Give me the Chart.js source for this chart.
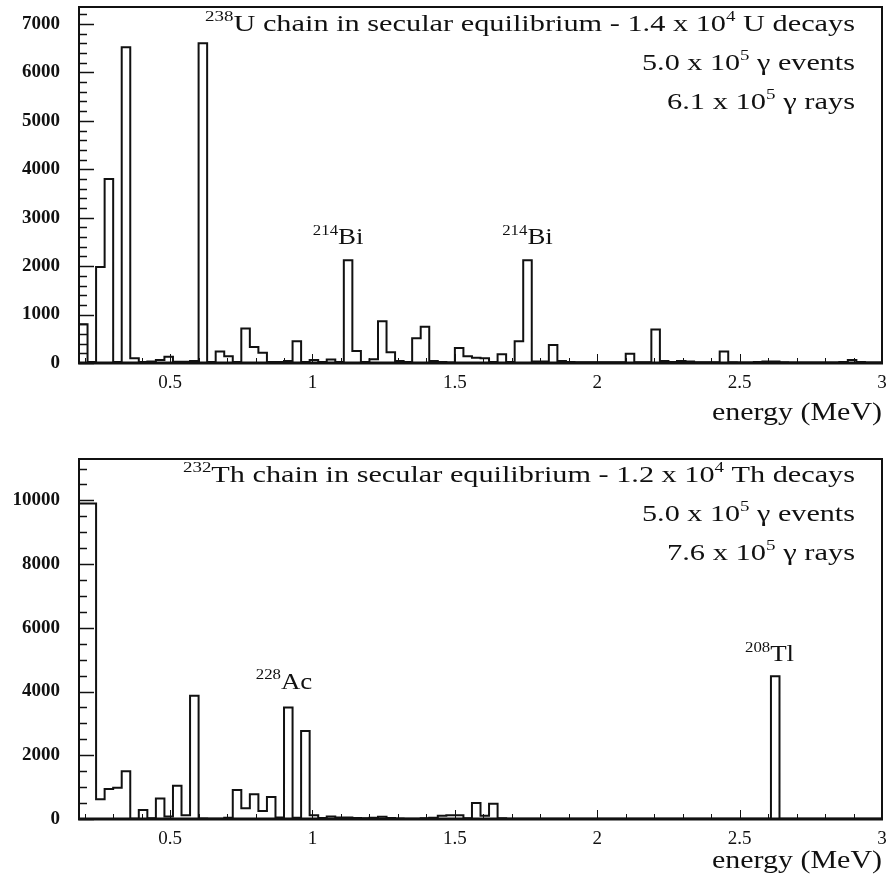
<!DOCTYPE html>
<html><head><meta charset="utf-8">
<script src="https://cdn.jsdelivr.net/npm/chart.js@4.4.1/dist/chart.umd.min.js"></script>
<style>
html,body{margin:0;padding:0;background:#fff;}
#w1{position:absolute;left:0;top:0;width:888px;height:440px;}
#w2{position:absolute;left:0;top:440px;width:888px;height:447px;}
</style></head><body>
<div id="w1"><canvas id="c1"></canvas></div>
<div id="w2"><canvas id="c2"></canvas></div>
<script>
// ---------- data ----------
const binStart = 0.18;      // MeV, lower edge of first bin
const binWidth = 0.03;      // MeV
const energyMax = 3.0;      // MeV
const xTickValues = [0.5, 1, 1.5, 2, 2.5, 3];
const uTickValues = [0, 1000, 2000, 3000, 4000, 5000, 6000, 7000];
const thTickValues = [0, 2000, 4000, 6000, 8000, 10000];

// 238U chain, counts per 0.03 MeV bin (0.18 - 3.00 MeV)
const uCounts = [
  800, 20, 1980, 3800, 20, 6520, 100, 20, 30, 60,
  130, 25, 25, 40, 6600, 20, 240, 140, 20, 710,
  330, 210, 20, 20, 40, 450, 20, 60, 20, 70,
  20, 2120, 250, 20, 80, 860, 220, 40, 20, 510,
  750, 40, 20, 10, 310, 140, 110, 100, 20, 180,
  20, 450, 2120, 30, 30, 370, 40, 20, 15, 15,
  15, 15, 15, 15, 190, 15, 15, 690, 40, 20,
  40, 30, 15, 15, 15, 240, 15, 10, 10, 20,
  30, 30, 15, 10, 10, 10, 10, 10, 10, 20,
  60, 20, 10, 10
];
// 232Th chain, counts per 0.03 MeV bin (0.18 - 3.00 MeV)
const thCounts = [
  9900, 9900, 620, 940, 980, 1500, 10, 280, 20, 640,
  80, 1040, 120, 3870, 15, 10, 10, 40, 910, 340,
  780, 255, 690, 50, 3500, 40, 2760, 120, 30, 80,
  50, 50, 30, 20, 40, 70, 30, 15, 10, 10,
  20, 40, 100, 120, 120, 20, 500, 100, 480, 20,
  10, 10, 10, 10, 10, 10, 10, 10, 10, 10,
  10, 10, 10, 10, 10, 10, 10, 10, 10, 10,
  10, 10, 10, 10, 10, 10, 10, 10, 10, 10,
  10, 4480, 10, 10, 10, 10, 10, 10, 10, 10,
  10, 10, 10, 10
];

const uInfo = [
  [{t:'238',sup:true},{t:'U chain in secular equilibrium - 1.4 x 10'},{t:'4',sup:true},{t:' U decays'}],
  [{t:'5.0 x 10'},{t:'5',sup:true},{t:' \u03b3 events'}],
  [{t:'6.1 x 10'},{t:'5',sup:true},{t:' \u03b3 rays'}]
];
const thInfo = [
  [{t:'232',sup:true},{t:'Th chain in secular equilibrium - 1.2 x 10'},{t:'4',sup:true},{t:' Th decays'}],
  [{t:'5.0 x 10'},{t:'5',sup:true},{t:' \u03b3 events'}],
  [{t:'7.6 x 10'},{t:'5',sup:true},{t:' \u03b3 rays'}]
];
// peak labels: [isotope mass, symbol, energy (MeV), counts level]
const uPeakLabels = [['214','Bi',1.09,2450],['214','Bi',1.755,2450]];
const thPeakLabels = [['228','Ac',0.90,4080],['208','Tl',2.605,4950]];

// ---------- helpers ----------
const SERIF = '"Liberation Serif","Times New Roman",serif';
function stepPoints(counts){
  const pts = counts.map((c,i)=>({x: binStart + i*binWidth, y: c}));
  pts.push({x: energyMax, y: counts[counts.length-1]});
  return pts;
}
function segWidth(ctx, segs, size){
  let w=0;
  for(const s of segs){ ctx.font=(s.sup?Math.round(size*0.64):size)+'px '+SERIF; w+=ctx.measureText(s.t).width; }
  return w;
}
function drawRich(ctx, segs, x, y, size, align, sx){
  const w = segWidth(ctx, segs, size)*sx;
  const x0 = align==='right' ? x-w : (align==='center' ? x-w/2 : x);
  ctx.save(); ctx.translate(x0,y); ctx.scale(sx,1);
  ctx.fillStyle='#111'; ctx.textAlign='left'; ctx.textBaseline='alphabetic';
  let cx=0;
  for(const s of segs){
    const fs = s.sup?Math.round(size*0.64):size;
    ctx.font = fs+'px '+SERIF;
    ctx.fillText(s.t, cx, s.sup ? -size*0.40 : 0);
    cx += ctx.measureText(s.t).width;
  }
  ctx.restore();
}

const decoPlugin = {
  id:'deco',
  afterDraw(chart, args, o){
    const ctx = chart.ctx, a = chart.chartArea;
    const xs = chart.scales.x, ys = chart.scales.y;
    ctx.save();
    ctx.strokeStyle='#111';
    // y ticks (inside)
    ctx.lineWidth=1.5;
    for(let k=0; k*o.yMinor <= ys.max; k++){
      const v=k*o.yMinor, py=Math.round(ys.getPixelForValue(v))+0.5;
      const len = (v % o.yMajor === 0) ? 15 : 8;
      ctx.beginPath(); ctx.moveTo(a.left,py); ctx.lineTo(a.left+len,py); ctx.stroke();
    }
    // x ticks (inside)
    ctx.lineWidth=1;
    for(let k=2; k<=30; k++){
      const v=k/10; if(v<xs.min) continue;
      const px=Math.round(xs.getPixelForValue(v))+0.5;
      const len = (k%5===0)?9:5;
      ctx.beginPath(); ctx.moveTo(px,a.bottom); ctx.lineTo(px,a.bottom-len); ctx.stroke();
    }
    // frame
    ctx.lineWidth=2;
    ctx.strokeRect(a.left, a.top, a.right-a.left, a.bottom-a.top);
    ctx.lineWidth=3;
    ctx.beginPath(); ctx.moveTo(a.left-1,a.bottom); ctx.lineTo(a.right+1,a.bottom); ctx.stroke();
    // info text
    o.info.forEach((segs,i)=>{
      const tw = o.infoWidths[i];
      const nat = segWidth(ctx, segs, o.infoSize);
      drawRich(ctx, segs, a.right-27, a.top+o.infoTop+i*39, o.infoSize, 'right', tw/nat);
    });
    // peak labels
    o.peaks.forEach(p=>{
      const segs=[{t:p[0],sup:true},{t:p[1]}];
      drawRich(ctx, segs, xs.getPixelForValue(p[2]), ys.getPixelForValue(p[3]), 24, 'center', 1.12);
    });
    // axis title
    const segsE=[{t:'energy (MeV)'}];
    const natE = segWidth(ctx, segsE, 25);
    drawRich(ctx, segsE, a.right, a.bottom+o.titleDy, 25, 'right', 170/natE);
    ctx.restore();
  }
};

function makeChart(id, counts, yMax, yTicks, deco, h, padTop){
  return new Chart(document.getElementById(id), {
    type:'line',
    data:{ datasets:[{ data: stepPoints(counts), stepped:true, borderColor:'#111', borderWidth:2,
      pointRadius:0, fill:false, borderJoinStyle:'miter' }] },
    plugins:[decoPlugin],
    options:{
      responsive:true, maintainAspectRatio:false, animation:false, devicePixelRatio:1,
      layout:{ padding:{ left:0, right:6, top:padTop, bottom:0 } },
      plugins:{ legend:{display:false}, tooltip:{enabled:false}, deco },
      scales:{
        x:{ type:'linear', min:binStart, max:energyMax,
            grid:{display:false, drawTicks:false}, border:{display:false},
            afterBuildTicks:(s)=>{ s.ticks = xTickValues.map(v=>({value:v})); },
            afterFit:(s)=>{ s.height = h; s.paddingLeft=0; s.paddingRight=0; s.paddingTop=0; s.paddingBottom=0; },
            ticks:{ padding:9, color:'#111', font:{family:SERIF, size:19}, maxRotation:0, autoSkip:false,
                    callback:(v)=>String(v) } },
        y:{ type:'linear', min:0, max:yMax,
            grid:{display:false, drawTicks:false}, border:{display:false},
            afterBuildTicks:(s)=>{ s.ticks = yTicks.map(v=>({value:v})); },
            afterFit:(s)=>{ s.width = 79; s.paddingLeft=0; s.paddingRight=0; s.paddingTop=0; s.paddingBottom=0; },
            ticks:{ padding:19, color:'#111', font:{family:SERIF, size:19, weight:'bold'},
                    callback:(v)=>String(v) } }
      }
    }
  });
}

makeChart('c1', uCounts, 7350, uTickValues,
  { yMinor:200, yMajor:1000, info:uInfo, infoWidths:[650,213,188], infoSize:24, infoTop:24,
    peaks:uPeakLabels, titleDy:57 }, 77, 7);
makeChart('c2', thCounts, 11300, thTickValues,
  { yMinor:500, yMajor:2000, info:thInfo, infoWidths:[672,213,188], infoSize:24, infoTop:23,
    peaks:thPeakLabels, titleDy:49 }, 68, 19);
</script>
</body></html>
